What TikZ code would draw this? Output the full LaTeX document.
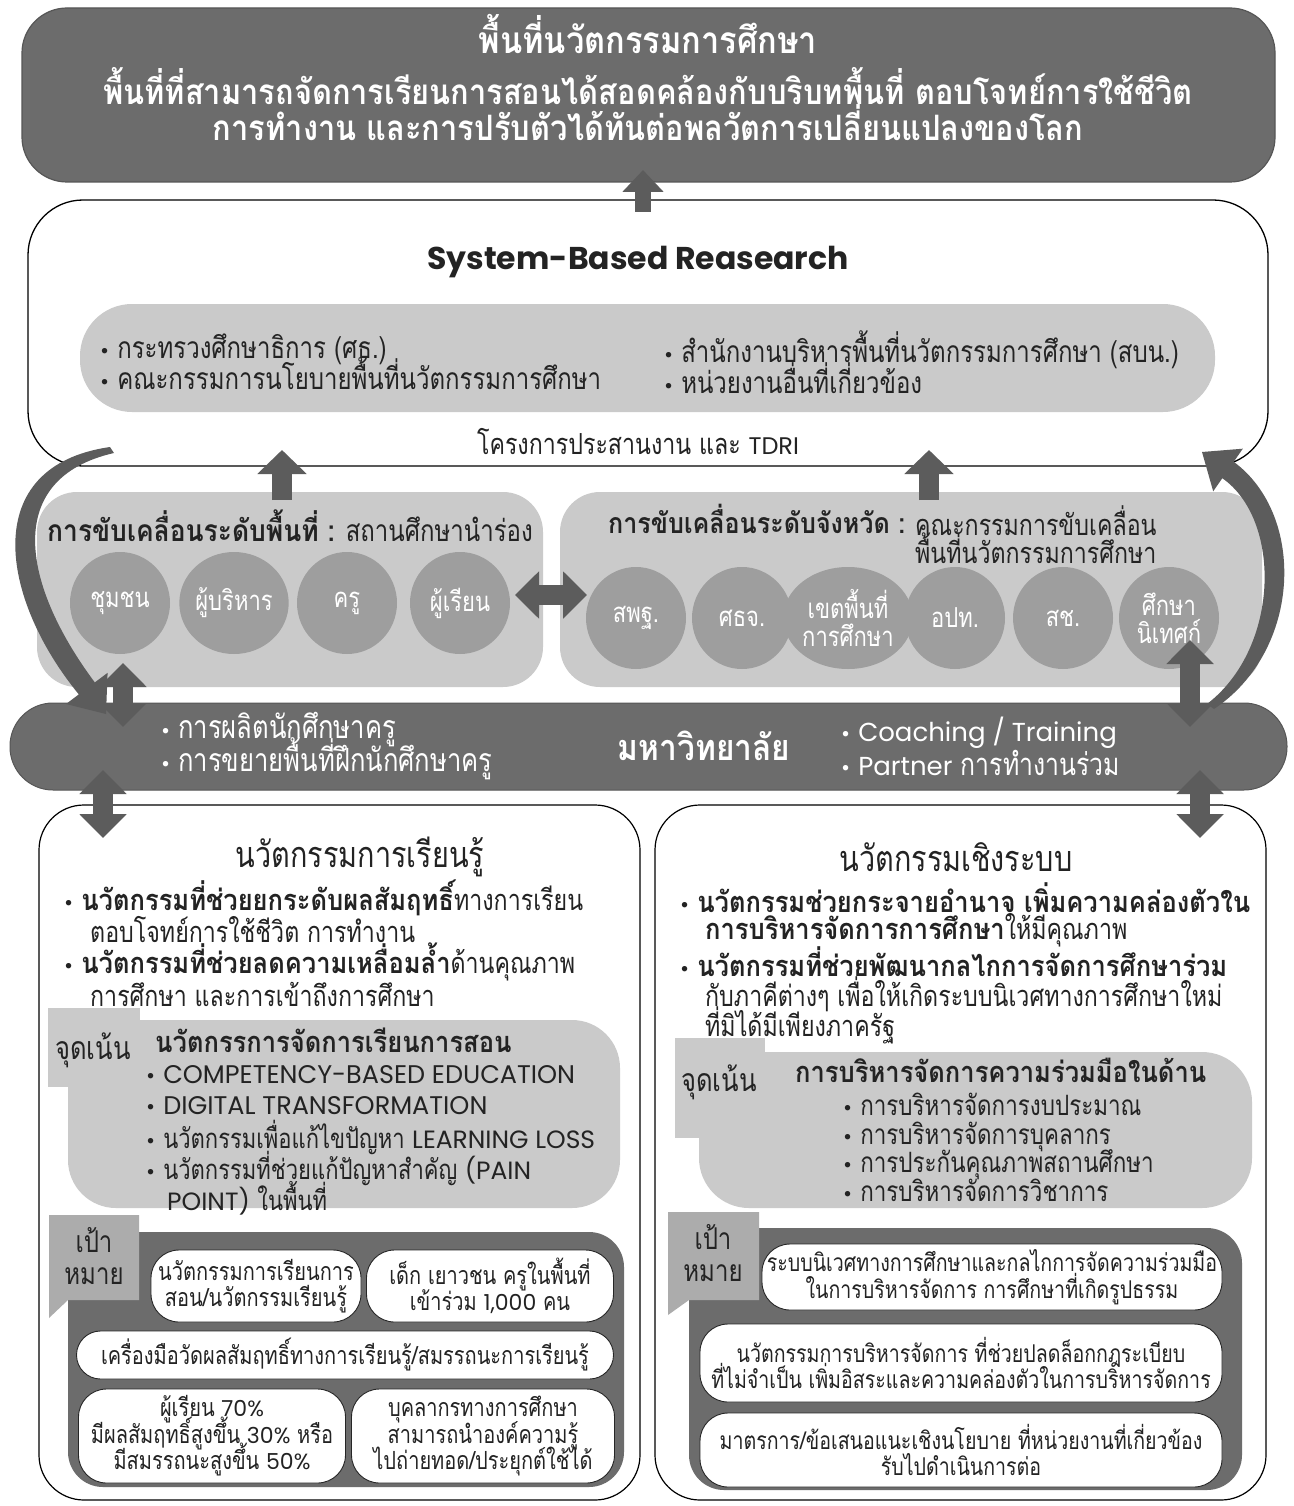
\documentclass[tikz,border=0pt]{standalone}
\usepackage{fontspec}
\setmainfont[Script=Thai,FakeStretch=0.8]{Loma}
\newfontfamily\thb[Script=Thai,FakeStretch=0.88]{Loma}
\newfontfamily\en{Poppins}
\usetikzlibrary{arrows.meta,shapes.geometric}
\definecolor{dk}{RGB}{108,108,108}
\definecolor{lt}{RGB}{202,202,202}
\definecolor{md}{RGB}{158,158,158}
\definecolor{tb}{RGB}{172,172,172}
\definecolor{ar}{RGB}{92,92,92}
\definecolor{ink}{RGB}{35,35,35}
\newcommand\fsz[2]{\fontsize{#1}{#2}\selectfont\lineskiplimit=-100pt\lineskip=0pt}
\newcommand\bu{{\en\fontsize{22}{22}\selectfont •}\hspace{8pt}}
\newcommand\B[1]{{\thb\bfseries #1}}
\begin{document}
\begin{tikzpicture}[x=1pt,y=-1pt,
  txt/.style={inner sep=0pt, anchor=west, text=ink},
  ctr/.style={inner sep=0pt, align=center, text=ink},
  fat/.style={ar, line width=20pt, -{Triangle[length=24pt,width=48pt]}},
  fatd/.style={ar, line width=20pt, {Triangle[length=24pt,width=46pt]}-{Triangle[length=24pt,width=46pt]}},
  bub/.style={ellipse, fill=md, minimum width=100pt, minimum height=102pt, inner sep=0pt, text=white, align=center, font=\fsz{27.5}{28}},
  gpill/.style={draw=black!85, fill=white, line width=0.9pt, rounded corners=28pt, inner sep=0pt, align=center, text=ink, font=\fsz{25}{26.5}},
  rpill/.style={gpill, font=\fsz{24.5}{26.5}},
]
\useasboundingbox (0,0) rectangle (1293,1506);
\fill[white] (0,0) rectangle (1293,1506);

% ---------- top banner
\filldraw[fill=dk, draw=dk!80!black, line width=1.2pt, rounded corners=45pt] (22,8) rectangle (1275,182);
\node[ctr, text=white, font=\thb\bfseries\fsz{37}{40}] (t1) at (648,34) {พื้นที่นวัตกรรมการศึกษา};
\node[ctr, text=white, font=\thb\bfseries\fsz{35}{36}] (t2) at (648,104)
  {พื้นที่ที่สามารถจัดการเรียนการสอนได้สอดคล้องกับบริบทพื้นที่ ตอบโจทย์การใช้ชีวิต\\การทำงาน และการปรับตัวได้ทันต่อพลวัตการเปลี่ยนแปลงของโลก};

% ---------- system based research
\draw[line width=1.3pt, fill=white, rounded corners=55pt] (28,200) rectangle (1268,466);
\node[ctr, font=\en\bfseries\fsz{31.5}{36}] (sbr) at (638,262) {System-Based Reasearch};
\fill[lt, rounded corners=52pt] (80,304) rectangle (1215,412);
\node[txt, align=left, font=\fsz{30}{31}] (o1) at (100,362)
  {\bu กระทรวงศึกษาธิการ (ศธ.)\\\bu คณะกรรมการนโยบายพื้นที่นวัตกรรมการศึกษา};
\node[txt, align=left, font=\fsz{30}{31}] (o2) at (664,362)
  {\bu สำนักงานบริหารพื้นที่นวัตกรรมการศึกษา (สบน.)\\\bu หน่วยงานอื่นที่เกี่ยวข้อง};
\node[ctr, font=\fsz{29}{30}] (tdri) at (638,442) {โครงการประสานงาน และ {\en\fontsize{24}{30}\selectfont TDRI}};

% ---------- middle row
\fill[lt, rounded corners=40pt] (37,492) rectangle (543,687);
\fill[lt, rounded corners=40pt] (560,492) rectangle (1262,687);
\node[txt, font=\fsz{30}{30}] (ml) at (47,526) {\B{การขับเคลื่อนระดับพื้นที่ :} สถานศึกษานำร่อง};
\node[txt, font=\thb\bfseries\fsz{28.5}{30}] (mr) at (608,519) {การขับเคลื่อนระดับจังหวัด :};
\node[txt, align=left, font=\fsz{29}{28}] (mr2) at (915,535) {คณะกรรมการขับเคลื่อน\\พื้นที่นวัตกรรมการศึกษา};
\node[bub] (c1) at (120,603) {ชุมชน};
\node[bub] (c2) at (234,603) {ผู้บริหาร};
\node[bub] (c3) at (347,603) {ครู};
\node[bub] (c4) at (460,603) {ผู้เรียน};
\node[bub] (d1) at (636,618) {สพฐ.};
\node[bub] (d2) at (742,618) {ศธจ.};
\node[bub] (d3) at (848,618) {เขตพื้นที่\\การศึกษา};
\node[bub] (d4) at (955,618) {อปท.};
\node[bub] (d5) at (1063,618) {สช.};
\node[bub] (d6) at (1169,618) {ศึกษา\\นิเทศก์};

% ---------- university band
\filldraw[fill=dk, draw=dk!80!black, line width=1pt, rounded corners=43pt] (10,703) rectangle (1287,790);
\node[txt, text=white, align=left, font=\fsz{32}{33}] (u1) at (161,746)
  {\bu การผลิตนักศึกษาครู\\\bu การขยายพื้นที่ฝึกนักศึกษาครู};
\node[ctr, text=white, font=\thb\bfseries\fsz{36}{36}] (uni) at (704,746) {มหาวิทยาลัย};
\node[txt, text=white, align=left, font=\fsz{31}{34}] (u2) at (841,746)
  {\bu{\en\fontsize{26}{34}\selectfont Coaching / Training}\\\bu{\en\fontsize{26}{34}\selectfont Partner} การทำงานร่วม};

% ---------- bottom left box
\draw[line width=1.2pt, fill=white, rounded corners=45pt] (39,805) rectangle (640,1500);
\node[ctr, font=\fsz{36}{36}] (lt0) at (360,857) {นวัตกรรมการเรียนรู้};
\node[txt, font=\fsz{29}{30}] (lb1) at (64,898) {\bu\B{นวัตกรรมที่ช่วยยกระดับผลสัมฤทธิ์}ทางการเรียน};
\node[txt, font=\fsz{29}{30}] (lb2) at (90,930) {ตอบโจทย์การใช้ชีวิต การทำงาน};
\node[txt, font=\fsz{29}{30}] (lb3) at (64,962) {\bu\B{นวัตกรรมที่ช่วยลดความเหลื่อมล้ำ}ด้านคุณภาพ};
\node[txt, font=\fsz{29}{30}] (lb4) at (90,994) {การศึกษา และการเข้าถึงการศึกษา};
% focus
\fill[lt] (48,1008) rectangle (140,1087);
\fill[lt, rounded corners=48pt] (68,1020) rectangle (620,1208);
\node[ctr, font=\fsz{32}{32}] (lf0) at (93,1050) {จุดเน้น};
\node[txt, font=\thb\bfseries\fsz{29}{30}] (lf1) at (155,1040) {นวัตกรรการจัดการเรียนการสอน};
\node[txt, font=\fsz{27.5}{28}] (lf2) at (146,1075) {\bu{\en\fontsize{25.5}{28}\selectfont COMPETENCY-BASED EDUCATION}};
\node[txt, font=\fsz{27.5}{28}] (lf3) at (146,1106) {\bu{\en\fontsize{25.5}{28}\selectfont DIGITAL TRANSFORMATION}};
\node[txt, font=\fsz{27.5}{28}] (lf4) at (146,1137) {\bu นวัตกรรมเพื่อแก้ไขปัญหา {\en\fontsize{25}{28}\selectfont LEARNING LOSS}};
\node[txt, font=\fsz{27.5}{28}] (lf5) at (146,1168) {\bu นวัตกรรมที่ช่วยแก้ปัญหาสำคัญ {\en\fontsize{25}{28}\selectfont (PAIN}};
\node[txt, font=\fsz{27.5}{28}] (lf6) at (167,1198) {{\en\fontsize{25}{28}\selectfont POINT)} ในพื้นที่};
% goals
\fill[dk, rounded corners=35pt] (68,1232) rectangle (624,1487);
\fill[tb] (49,1215) -- (139,1215) -- (139,1300) -- (68,1300) -- (49,1318) -- cycle;
\node[ctr, font=\fsz{30}{32}] (lg0) at (94,1256) {เป้า\\หมาย};
\node[gpill, minimum width=210pt, minimum height=72pt] (g1) at (256,1286) {นวัตกรรมการเรียนการ\\สอน/นวัตกรรมเรียนรู้};
\node[gpill, minimum width=247pt, minimum height=72pt] (g2) at (490,1286) {เด็ก เยาวชน ครูในพื้นที่\\เข้าร่วม {\en\fontsize{22}{26}\selectfont 1,000} คน};
\node[gpill, minimum width=537pt, minimum height=48pt, rounded corners=24pt] (g3) at (345,1355) {เครื่องมือวัดผลสัมฤทธิ์ทางการเรียนรู้/สมรรถนะการเรียนรู้};
\node[gpill, minimum width=267pt, minimum height=94pt] (g4) at (212,1436) {ผู้เรียน {\en\fontsize{22}{26}\selectfont 70\%}\\มีผลสัมฤทธิ์สูงขึ้น {\en\fontsize{22}{26}\selectfont 30\%} หรือ\\มีสมรรถนะสูงขึ้น {\en\fontsize{22}{26}\selectfont 50\%}};
\node[gpill, minimum width=263pt, minimum height=94pt] (g5) at (483,1436) {บุคลากรทางการศึกษา\\สามารถนำองค์ความรู้\\ไปถ่ายทอด/ประยุกต์ใช้ได้};

% ---------- bottom right box
\draw[line width=1.2pt, fill=white, rounded corners=45pt] (655,805) rectangle (1266,1500);
\node[ctr, font=\fsz{36}{36}] (rt0) at (956,857) {นวัตกรรมเชิงระบบ};
\node[txt, font=\fsz{29}{30}] (rb1) at (680,898) {\bu\B{นวัตกรรมช่วยกระจายอำนาจ เพิ่มความคล่องตัวใน}};
\node[txt, font=\fsz{29}{30}] (rb2) at (705,930) {\B{การบริหารจัดการการศึกษา}ให้มีคุณภาพ};
\node[txt, font=\fsz{29}{30}] (rb3) at (680,962) {\bu\B{นวัตกรรมที่ช่วยพัฒนากลไกการจัดการศึกษาร่วม}};
\node[txt, font=\fsz{29}{30}] (rb4) at (705,994) {กับภาคีต่างๆ เพื่อให้เกิดระบบนิเวศทางการศึกษาใหม่};
\node[txt, font=\fsz{29}{30}] (rb5) at (705,1025) {ที่มิได้มีเพียงภาครัฐ};
% focus
\fill[lt] (675,1038) rectangle (765,1138);
\fill[lt, rounded corners=50pt] (699,1052) rectangle (1252,1208);
\node[ctr, font=\fsz{32}{32}] (rf0) at (719,1082) {จุดเน้น};
\node[txt, font=\thb\bfseries\fsz{29}{30}] (rf1) at (795,1070) {การบริหารจัดการความร่วมมือในด้าน};
\node[txt, align=left, font=\fsz{28}{28.5}] (rf2) at (843,1147.5) {\bu การบริหารจัดการงบประมาณ\\\bu การบริหารจัดการบุคลากร\\\bu การประกันคุณภาพสถานศึกษา\\\bu การบริหารจัดการวิชาการ};
% goals
\fill[dk, rounded corners=35pt] (689,1228) rectangle (1242,1490);
\fill[tb] (668,1212) -- (759,1212) -- (759,1300) -- (689,1300) -- (668,1315) -- cycle;
\node[ctr, font=\fsz{30}{32}] (rg0) at (713,1253) {เป้า\\หมาย};
\node[rpill, minimum width=460pt, minimum height=66pt] (r1) at (992,1277) {ระบบนิเวศทางการศึกษาและกลไกการจัดความร่วมมือ\\ในการบริหารจัดการ การศึกษาที่เกิดรูปธรรม};
\node[rpill, minimum width=522pt, minimum height=78pt] (r2) at (961,1363) {นวัตกรรมการบริหารจัดการ ที่ช่วยปลดล็อกกฎระเบียบ\\ที่ไม่จำเป็น เพิ่มอิสระและความคล่องตัวในการบริหารจัดการ};
\node[rpill, minimum width=522pt, minimum height=74pt] (r3) at (961,1450) {มาตรการ/ข้อเสนอแนะเชิงนโยบาย ที่หน่วยงานที่เกี่ยวข้อง\\รับไปดำเนินการต่อ};

% ---------- connectors
\coordinate (a0s) at (643,212); \coordinate (a0e) at (643,170);
\draw[ar, line width=16pt, -{Triangle[length=22pt,width=40pt]}] (a0s) -- (a0e);
\coordinate (a1s) at (282,500); \coordinate (a1e) at (282,450);
\draw[fat] (a1s) -- (a1e);
\coordinate (a2s) at (929,500); \coordinate (a2e) at (929,450);
\draw[fat] (a2s) -- (a2e);
\coordinate (h1) at (515,595); \coordinate (h2) at (587,595);
\draw[fatd] (h1) -- (h2);
\coordinate (v1a) at (123,663); \coordinate (v1b) at (123,727);
\draw[fatd] (v1a) -- (v1b);
\coordinate (v2a) at (1190,640); \coordinate (v2b) at (1190,727);
\draw[fatd] (v2a) -- (v2b);
\coordinate (v3a) at (103,770); \coordinate (v3b) at (103,838);
\draw[fatd] (v3a) -- (v3b);
\coordinate (v4a) at (1200,770); \coordinate (v4b) at (1200,838);
\draw[fatd] (v4a) -- (v4b);
% curved arrows (tapered)
\coordinate (cls) at (112,450); \coordinate (clt) at (106,714);
\fill[ar] (110,447) .. controls (-22,466) and (0,598) .. (78.8,694.4)
  -- (66,704) -- (clt) -- (107.6,672.8) -- (94.8,682.4)
  .. controls (20,582) and (4,478) .. (114,453) -- cycle;
\coordinate (crs) at (1210,707); \coordinate (crt) at (1202,452);
\fill[ar] (1214,709) .. controls (1302,650) and (1306,515) .. (1233.7,461.8)
  -- (1242.8,448.7) -- (crt) -- (1213.2,491.3) -- (1222.3,478.2)
  .. controls (1282,520) and (1280,648) .. (1207,704) -- cycle;
\end{tikzpicture}
\end{document}
